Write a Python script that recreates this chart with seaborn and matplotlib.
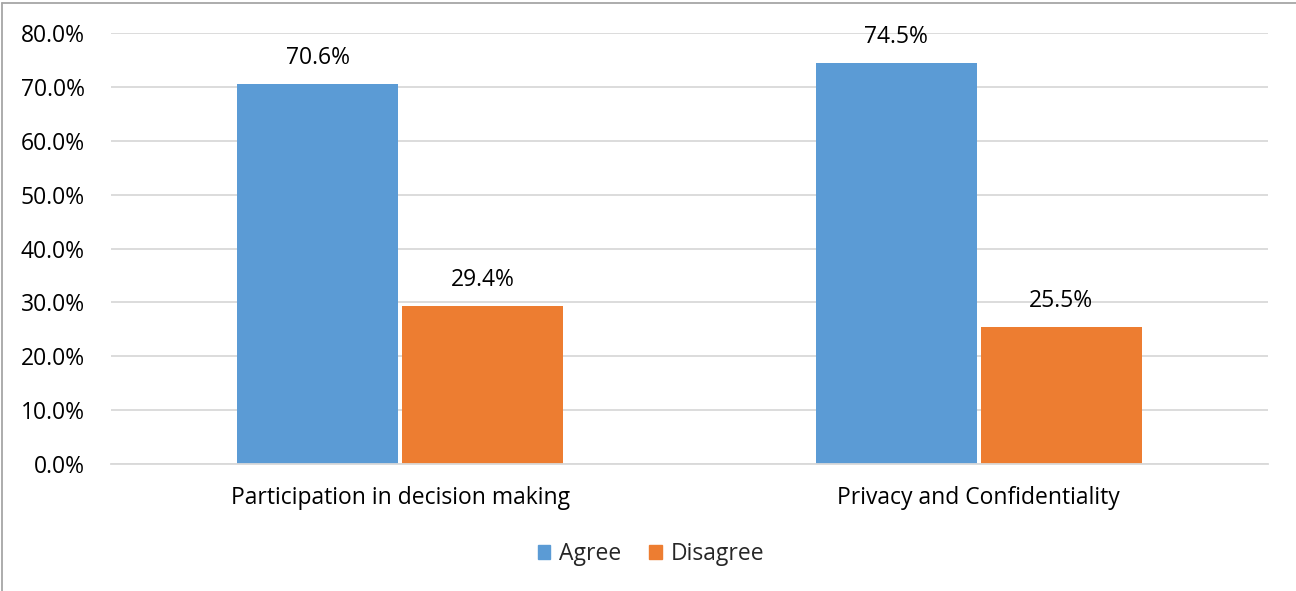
import matplotlib
matplotlib.use("Agg")
import matplotlib.pyplot as plt
from matplotlib.lines import Line2D
from matplotlib.ticker import FuncFormatter, FixedLocator
import seaborn as sns
import pandas as pd

categories = ["Participation in decision making", "Privacy and Confidentiality"]
responses = ["Agree", "Disagree"]
agree = [0.706, 0.745]
disagree = [0.294, 0.255]
yticks = [0.0, 0.1, 0.2, 0.3, 0.4, 0.5, 0.6, 0.7, 0.8]

rows = []
for cat, a, d in zip(categories, agree, disagree):
    rows.append({"category": cat, "response": "Agree", "share": a})
    rows.append({"category": cat, "response": "Disagree", "share": d})
df = pd.DataFrame(rows)

sns.set_theme(style="white")
plt.rcParams["font.family"] = ["Open Sans", "DejaVu Sans"]

FS = 16.5

fig = plt.figure(figsize=(12.96, 5.91), dpi=100)
ax = fig.add_axes([111 / 1296, 1 - 464 / 591, 1157 / 1296, 431 / 591])

palette = {"Agree": "#5B9BD5", "Disagree": "#ED7D31"}
sns.barplot(data=df, x="category", y="share", hue="response", hue_order=responses,
            palette=palette, width=0.57, saturation=1, ax=ax, legend=False,
            edgecolor="none")

# small white gap between paired bars
for p in ax.patches:
    w = p.get_width()
    p.set_x(p.get_x() + 0.0035)
    p.set_width(w - 0.007)

for cont in ax.containers:
    ax.bar_label(cont, labels=[f"{v * 100:.1f}%" for v in cont.datavalues],
                 padding=10, fontsize=FS, color="#000000")

ax.set_ylim(0, 0.8)
ax.set_xlim(-0.5, 1.5)
ax.yaxis.set_major_locator(FixedLocator(yticks))
ax.yaxis.set_major_formatter(FuncFormatter(lambda v, _: f"{v * 100:.1f}%"))
ax.grid(axis="y", color="#D9D9D9", linewidth=1.3)
ax.set_axisbelow(True)
ax.set_xlabel("")
ax.set_ylabel("")

for side in ["top", "right", "left"]:
    ax.spines[side].set_visible(False)
ax.spines["bottom"].set_color("#D9D9D9")
ax.spines["bottom"].set_linewidth(1.3)

ax.tick_params(axis="y", length=0, labelsize=FS, pad=19, labelcolor="#000000")
ax.tick_params(axis="x", which="major", length=0, labelsize=FS, pad=16, labelcolor="#000000")
ax.set_xticks([-0.5, 0.5, 1.5], minor=True)
ax.tick_params(axis="x", which="minor", length=6, width=1.3, color="#D9D9D9", direction="out")

handles = [plt.Rectangle((0, 0), 1, 1, color=palette[r]) for r in responses]
fig.legend(handles, responses, loc="center", bbox_to_anchor=(651 / 1296, 1 - 554 / 591),
           ncol=2, frameon=False, fontsize=FS, handlelength=0.55, handleheight=0.55,
           handletextpad=0.4, columnspacing=1.2)

# outer chart frame
fig.add_artist(Line2D([2 / 1296, 2 / 1296], [0, 1 - 3 / 591], transform=fig.transFigure,
                      color="#A6A6A6", linewidth=1.3))
fig.add_artist(Line2D([2 / 1296, 1], [1 - 3 / 591, 1 - 3 / 591], transform=fig.transFigure,
                      color="#A6A6A6", linewidth=1.3))

fig.savefig("out.png", dpi=100, facecolor="white")
